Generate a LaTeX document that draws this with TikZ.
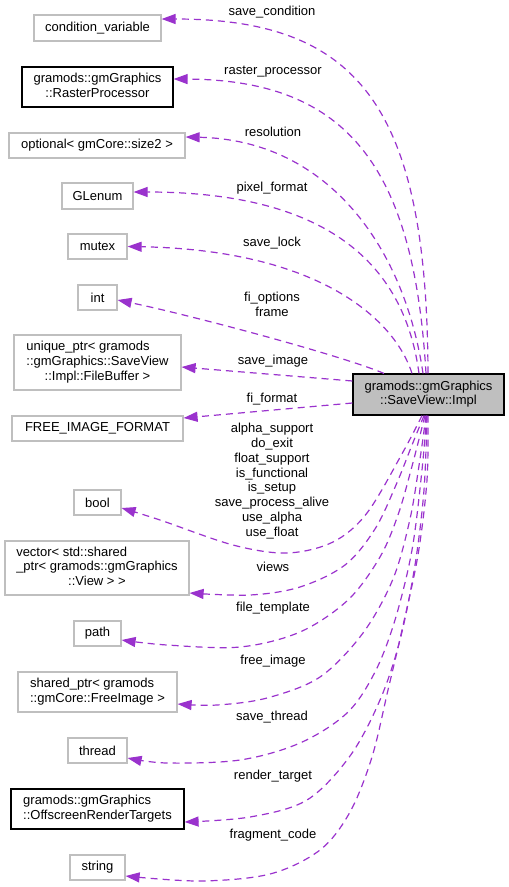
\documentclass[tikz,border=0pt]{standalone}
\usepackage{fontspec}
\setmainfont{Liberation Sans}
\usetikzlibrary{arrows.meta}
\definecolor{purp}{HTML}{9A32CD}
\definecolor{greyb}{HTML}{BFBFBF}
\newcommand{\lastc}[1]{\multicolumn{1}{@{}c@{}}{#1}}
\newcommand{\ml}[1]{\begin{tabular}{@{}l@{}}#1\end{tabular}}
\tikzset{
  cls/.style={draw=greyb, line width=1.2pt, fill=white, inner sep=0pt, align=center},
  doc/.style={draw=black, line width=1.2pt, fill=white, inner sep=0pt, align=center},
  cur/.style={draw=black, line width=1.2pt, fill=greyb, inner sep=0pt, align=center},
  edge/.style={draw=purp, line width=1.2pt, dash pattern=on 7pt off 5pt,
    -{Triangle[length=14pt,width=10pt,color=purp]}},
  lab/.style={inner sep=0pt, align=center}
}
\begin{document}
\begin{tikzpicture}[x=1pt,y=-1pt,font=\fontsize{13}{14.8}\selectfont]
\useasboundingbox (0,0) rectangle (509,887);
% nodes
\node[cls, minimum width=127, minimum height=26] (cv) at (97.5,28) {condition\_variable};
\node[doc, minimum width=151, minimum height=40] (rp) at (97.5,87) {\ml{gramods::gmGraphics\\\lastc{::RasterProcessor}}};
\node[cls, minimum width=176, minimum height=25] (opt) at (97,145.5) {optional< gmCore::size2 >};
\node[cls, minimum width=71, minimum height=26] (gl) at (97.5,196) {GLenum};
\node[cls, minimum width=59, minimum height=25] (mtx) at (97.5,246.5) {mutex};
\node[cls, minimum width=39, minimum height=25] (int) at (97.5,297.5) {int};
\node[cls, minimum width=167, minimum height=55] (uptr) at (97.5,362.5) {\ml{unique\_ptr< gramods\\::gmGraphics::SaveView\\\lastc{::Impl::FileBuffer >}}};
\node[cls, minimum width=171, minimum height=25] (fif) at (97.5,428.5) {FREE\_IMAGE\_FORMAT};
\node[cls, minimum width=47, minimum height=25] (bool) at (97.5,502.5) {bool};
\node[cls, minimum width=184, minimum height=54] (vec) at (97,568) {\ml{vector< std::shared\\\_ptr< gramods::gmGraphics\\\lastc{::View > >}}};
\node[cls, minimum width=47, minimum height=25] (path) at (97.5,633.5) {path};
\node[cls, minimum width=159, minimum height=40] (sptr) at (97.5,692) {\ml{shared\_ptr< gramods\\\lastc{::gmCore::FreeImage >}}};
\node[cls, minimum width=59, minimum height=25] (thr) at (97.5,750.5) {thread};
\node[doc, minimum width=173, minimum height=40] (ort) at (97.5,809) {\ml{gramods::gmGraphics\\\lastc{::OffscreenRenderTargets}}};
\node[cls, minimum width=55, minimum height=25] (str) at (97.5,867.5) {string};
\node[cur, minimum width=151, minimum height=41] (impl) at (428.5,394.5) {\ml{gramods::gmGraphics\\\lastc{::SaveView::Impl}}};
% edges above
\draw[edge] ([xshift=-0.5pt]impl.north) .. controls (427,110) and (361,19) .. ([yshift=9pt]cv.east);
\draw[edge] ([xshift=-2.5pt]impl.north) .. controls (414,170) and (350,80) .. ([yshift=8pt]rp.east);
\draw[edge] ([xshift=-5.5pt]impl.north) .. controls (405,250) and (330,140) .. ([yshift=8.5pt]opt.east);
\draw[edge] ([xshift=-9.5pt]impl.north) .. controls (405,270) and (335,192) .. ([yshift=4pt]gl.east);
\draw[edge] ([xshift=-16.5pt]impl.north) .. controls (395,320) and (320,250) .. (mtx.east);
\draw[edge] ([xshift=-44.5pt]impl.north) .. controls (340,355) and (190,315) .. ([yshift=-2.5pt]int.east);
\draw[edge] ([yshift=13.5pt]impl.west) -- ([yshift=-4.5pt]uptr.east);
\draw[edge] ([yshift=-8.5pt]impl.west) -- ([yshift=10.5pt]fif.east);
% edges below
\draw[edge] plot[smooth, tension=0.55] coordinates {([xshift=-6.5pt]impl.south) (403,452) (367,513) (333,542) (287,553) (233,545) (160,520) ([yshift=-5.5pt]bool.east)};
\draw[edge] plot[smooth, tension=0.55] coordinates {([xshift=-4.5pt]impl.south) (412,445) (396,485) (375,529) (345,565) (300,587) (250,595) ([yshift=-25pt]vec.east)};
\draw[edge] plot[smooth, tension=0.55] coordinates {([xshift=-3.5pt]impl.south) (411,470) (398,515) (380,557) (348,600) (300,632) (240,647) (167,645) ([yshift=-6.5pt]path.east)};
\draw[edge] plot[smooth, tension=0.55] coordinates {([xshift=-2.5pt]impl.south) (420,459) (410,519) (393,579) (363,633) (320,677) (267,698) (217,705) ([yshift=-12pt]sptr.east)};
\draw[edge] plot[smooth, tension=0.55] coordinates {([xshift=-2pt]impl.south) (422,470) (412,550) (395,620) (375,672) (347,713) (300,743) (240,760) (167,763) ([yshift=-7.5pt]thr.east)};
\draw[edge] plot[smooth, tension=0.55] coordinates {([xshift=-1.5pt]impl.south) (424,490) (415,565) (400,640) (380,700) (350,756) (307,800) (250,817) ([yshift=-13pt]ort.east)};
\draw[edge] plot[smooth, tension=0.55] coordinates {([xshift=-0.5pt]impl.south) (427,480) (418,555) (402,630) (388,690) (372,757) (350,812) (320,850) (270,874) (200,881) ([yshift=-8.5pt]str.east)};
% labels
\node[lab] (l1) at (272,12) {save\_condition};
\node[lab] (l2) at (273,72) {raster\_processor};
\node[lab] (l3) at (273,132) {resolution};
\node[lab] (l4) at (272,188) {pixel\_format};
\node[lab] (l5) at (272,243) {save\_lock};
\node[lab] (l6) at (272,304) {fi\_options\\frame};
\node[lab] (l7) at (273,361) {save\_image};
\node[lab] (l8) at (272,399) {fi\_format};
\node[lab] (l9) at (272,481) {alpha\_support\\do\_exit\\float\_support\\is\_functional\\is\_setup\\save\_process\_alive\\use\_alpha\\use\_float};
\node[lab] (l10) at (273,567) {views};
\node[lab] (l11) at (273,608) {file\_template};
\node[lab] (l12) at (273,661) {free\_image};
\node[lab] (l13) at (272,717) {save\_thread};
\node[lab] (l14) at (273,776) {render\_target};
\node[lab] (l15) at (273,835) {fragment\_code};
\end{tikzpicture}
\end{document}
